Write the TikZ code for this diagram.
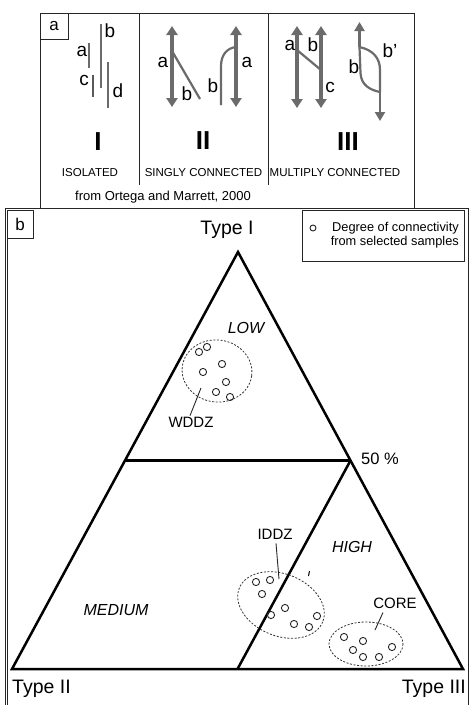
\documentclass[tikz,border=0pt]{standalone}
\usepackage{fontspec}
\setmainfont{Liberation Sans}
\usetikzlibrary{arrows.meta}
\begin{document}
\begin{tikzpicture}[x=1pt,y=-1pt,
  frame/.style={draw=black!85, line width=0.9pt},
  strand/.style={draw=black!58, line width=3.2pt},
  thinstrand/.style={draw=black!58, line width=2.2pt},
  dbl/.style={strand, {Triangle[length=9pt,width=11pt]}-{Triangle[length=9pt,width=11pt]}},
  tipend/.style={-{Triangle[length=9pt,width=10pt]}},
  slbl/.style={font=\fontsize{19}{19}\selectfont, inner sep=0pt},
  roman/.style={font=\fontsize{26}{26}\selectfont\bfseries, inner sep=0pt},
  captxt/.style={font=\fontsize{11.5}{11.5}\selectfont, inner sep=0pt},
  boxlbl/.style={draw=black!85, line width=0.9pt, font=\fontsize{17}{17}\selectfont, inner sep=0pt},
  tri/.style={draw=black, line width=2.5pt, line join=miter},
  typelbl/.style={font=\fontsize{19.5}{19.5}\selectfont, inner sep=0pt},
  zone/.style={font=\fontsize{16}{16}\selectfont\itshape, inner sep=0pt},
  grp/.style={font=\fontsize{15}{15}\selectfont, inner sep=0pt},
  halo/.style={draw=black!80, line width=0.8pt, dash pattern=on 2pt off 1.6pt},
  samp/.style={draw=black!85, line width=0.9pt},
  ptr/.style={draw=black!85, line width=0.9pt}
]
\useasboundingbox (0,0) rectangle (469,705);
\fill[white] (0,0) rectangle (469,705);

% ---------------- panel a ----------------
\draw[frame] (40,13) rectangle (414,208);
\draw[frame] (139,13) -- (139,185);
\draw[frame] (268,13) -- (268,185);
\node[boxlbl, minimum width=28pt, minimum height=26pt] (la) at (54,26) {a};

% I : isolated
\draw[thinstrand] (89,43) -- (89,68);
\draw[thinstrand] (101,24) -- (101,88);
\draw[thinstrand, draw=black!65] (93,75) -- (93,97);
\draw[thinstrand] (108,62) -- (108,108);
\node[slbl] (Ia) at (82,51) {a};
\node[slbl] (Ib) at (110,31) {b};
\node[slbl] (Ic) at (84,80) {c};
\node[slbl] (Id) at (118,91) {d};
\node[roman] (rI) at (98,142) {I};
\node[captxt] (cI) at (90,173) {ISOLATED};

% II : singly connected
\coordinate (IIt1) at (172,26); \coordinate (IIb1) at (172,107);
\draw[dbl] (IIb1) -- (IIt1);
\coordinate (IIj1) at (172,51);
\draw[thinstrand] (IIj1) -- (200,99);
\node[slbl] (IIa1) at (163,62) {a};
\node[slbl] (IIb1l) at (187,94) {b};
\coordinate (IIt2) at (236,26); \coordinate (IIb2) at (236,107);
\draw[dbl] (IIb2) -- (IIt2);
\draw[thinstrand] (221,105) -- (221,66) .. controls (221,55) and (227,48) .. (236,47);
\node[slbl] (IIb2l) at (213,86) {b};
\node[slbl] (IIa2l) at (247,62) {a};
\node[roman] (rII) at (203,141) {II};
\node[captxt] (cII) at (203.5,173) {SINGLY CONNECTED};

% III : multiply connected
\coordinate (IIIt1) at (297,26); \coordinate (IIIb1) at (297,108);
\coordinate (IIIt2) at (321,26); \coordinate (IIIb2) at (321,108);
\draw[dbl] (IIIb1) -- (IIIt1);
\draw[dbl] (IIIb2) -- (IIIt2);
\draw[thinstrand] (297,50) -- (321,70);
\node[slbl] (IIIa) at (290,45) {a};
\node[slbl] (IIIb) at (313,45) {b};
\node[slbl] (IIIc) at (330,87) {c};
\coordinate (sp) at (359.5,47);
\coordinate (mg) at (380,92);
\draw[thinstrand, tipend] (sp) -- (359.5,22);
\draw[thinstrand] (sp) .. controls (373,50) and (380,58) .. (380,70) -- (mg);
\draw[thinstrand] (sp) -- (360.5,73) .. controls (361,85) and (370,90) .. (mg);
\draw[thinstrand, tipend] (mg) -- (380,121);
\node[slbl] (IIIbp) at (390,51) {b'};
\node[slbl] (IIIbl) at (354,67) {b};
\node[roman] (rIII) at (348,142) {III};
\node[captxt] (cIII) at (335,173) {MULTIPLY CONNECTED};

\node[font=\fontsize{13}{13}\selectfont, inner sep=0pt] (src) at (163,197) {from Ortega and Marrett, 2000};

% ---------------- panel b ----------------
\draw[frame] (5,705) -- (5,208) -- (468,208) -- (468,705);
\draw[frame] (7.5,705) -- (7.5,210.5);
\node[boxlbl, minimum width=26pt, minimum height=28pt] (lb) at (20,224) {b};

% legend
\node[frame, minimum width=162pt, minimum height=51pt] (legend) at (383,235.5) {};
\draw[samp] (313,228) circle[radius=3];
\node[font=\fontsize{12.8}{14}\selectfont, align=right, inner sep=0pt, anchor=east] (legtxt) at (459,235) {Degree of connectivity\\from selected samples};

% triangle
\coordinate (A) at (238,252);
\coordinate (B) at (12,669);
\coordinate (C) at (463,669);
\coordinate (MAB) at (125,460.5);
\coordinate (MAC) at (350.5,460.5);
\coordinate (MBC) at (237.5,669);
\draw[tri] (A) -- (B) -- (C) -- cycle;
\draw[tri, line width=3pt] (MAB) -- (MAC);
\draw[tri] (MAC) -- (MBC);

\node[typelbl] (t1) at (227,230) {Type I};
\node[typelbl, anchor=west] (t2) at (12,689) {Type II};
\node[typelbl, anchor=east] (t3) at (466,689) {Type III};
\node[font=\fontsize{16.5}{16.5}\selectfont, inner sep=0pt, anchor=west] (p50) at (361,459) {50 \%};

\node[zone] (low) at (246,328) {LOW};
\node[zone] (med) at (116,610) {MEDIUM};
\node[zone] (high) at (352,547) {HIGH};

% WDDZ group
\draw[halo] (217,371) ellipse[x radius=35, y radius=31, rotate=-8];
\foreach \p in {(199,352),(207,347),(222,364),(203,372),(226,382),(216,392),(230,397)}
  \draw[samp] \p circle[radius=3.6];
\node[grp] (wddz) at (191,422) {WDDZ};
\coordinate (wddzend) at (201,388);
\draw[ptr] (wddz.north) ++(-1,-1) -- (wddzend);

% IDDZ group
\draw[halo] (281,605) ellipse[x radius=45, y radius=31, rotate=-22];
\foreach \p in {(256,582),(270,580),(262,594),(285,608),(271,615),(294,624),(309,627),(317,616)}
  \draw[samp] \p circle[radius=3.6];
\node[grp] (iddz) at (275,534) {IDDZ};
\coordinate (iddzend) at (279,579);
\draw[ptr] (iddz.south) ++(1,4) -- (iddzend);
\draw[line width=1pt] (309.5,571) -- (308.5,576);

% CORE group
\draw[halo] (366,644) ellipse[x radius=37, y radius=22];
\foreach \p in {(344,637),(363,641),(353,650),(363,657),(379,657),(392,647)}
  \draw[samp] \p circle[radius=3.6];
\node[grp] (core) at (395,603) {CORE};
\coordinate (coreend) at (375,630);
\draw[ptr] (core.south) ++(-12,4) -- (coreend);

\end{tikzpicture}
\end{document}
